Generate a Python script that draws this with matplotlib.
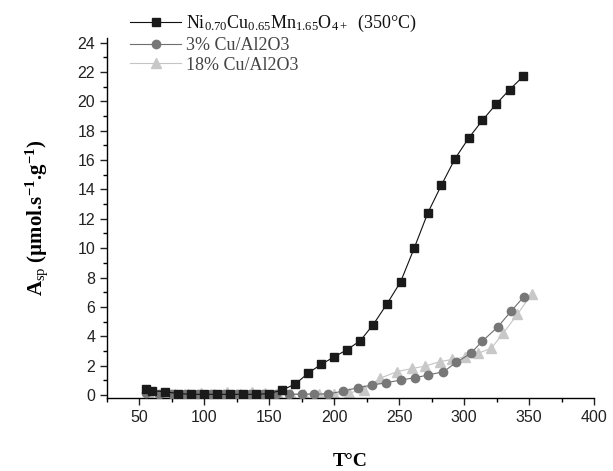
import matplotlib
matplotlib.use("Agg")
import matplotlib.pyplot as plt
from matplotlib.ticker import MultipleLocator

plt.rcParams['mathtext.fontset'] = 'custom'
plt.rcParams['mathtext.rm'] = 'Liberation Serif'
plt.rcParams['mathtext.it'] = 'Liberation Serif:italic'
plt.rcParams['mathtext.bf'] = 'Liberation Serif:bold'

# Ni0.70Cu0.65Mn1.65O4+ (350°C)
t_ni = [55, 60, 70, 80, 90, 100, 110, 120, 130, 140, 150, 160, 170, 180, 190, 200,
        210, 220, 230, 240.5, 251, 261.5, 272, 282.5, 293, 303.5, 314, 324.5, 335, 345.5]
a_ni = [0.4, 0.3, 0.22, 0.1, 0.05, 0.05, 0.05, 0.05, 0.05, 0.05, 0.1, 0.35, 0.75, 1.5,
        2.1, 2.6, 3.1, 3.7, 4.8, 6.2, 7.7, 10.0, 12.4, 14.3, 16.1, 17.5, 18.7, 19.8, 20.8, 21.7]

# 3% Cu/Al2O3
t_3 = [55, 65, 75, 85, 95, 105, 115, 125, 135, 145, 155, 165, 175, 184, 195, 207, 218,
       229, 240, 251, 262, 272, 284, 294, 305, 314, 326, 336, 346]
a_3 = [0.15, 0.1, 0.08, 0.05, 0.05, 0.05, 0.05, 0.05, 0.05, 0.08, 0.05, 0.07, 0.05, 0.07,
       0.07, 0.27, 0.5, 0.68, 0.84, 1.02, 1.18, 1.36, 1.59, 2.22, 2.84, 3.67, 4.65, 5.7, 6.7]

# 18% Cu/Al2O3
t_18 = [57, 67, 77, 87, 97, 107, 117, 127, 137, 147, 157, 167, 177, 188, 200, 211, 222.5,
        235, 248, 260, 270, 281, 291, 301, 311, 321, 330, 341, 352]
a_18 = [0.1, 0.05, 0.08, 0.1, 0.15, 0.1, 0.2, 0.1, 0.2, 0.15, 0.1, 0.05, 0.08, 0.1, 0.05,
        0.15, 0.34, 1.13, 1.59, 1.81, 1.97, 2.27, 2.43, 2.6, 2.85, 3.2, 4.2, 5.5, 6.9]

labels = [r"Ni$_{0.70}$Cu$_{0.65}$Mn$_{1.65}$O$_{4+}$  (350°C)", "3% Cu/Al2O3", "18% Cu/Al2O3"]

fig = plt.figure(figsize=(6.13, 4.71), dpi=100)
ax = fig.add_axes([0.1746, 0.155, 0.7945, 0.764])

ax.plot(t_ni, a_ni, color='#111111', lw=0.8, marker='s', ms=5.5, mfc='#1a1a1a', mec='#1a1a1a',
        label=labels[0], zorder=4)
ax.plot(t_3, a_3, color='#6e6e6e', lw=0.8, marker='o', ms=6, mfc='#777777', mec='#777777',
        label=labels[1], zorder=3)
ax.plot(t_18, a_18, color='#c4c4c4', lw=0.8, marker='^', ms=6.5, mfc='#c8c8c8', mec='#c8c8c8',
        label=labels[2], zorder=2)

ax.set_xlim(25, 400)
ax.set_ylim(-0.2, 24.3)
ax.xaxis.set_major_locator(MultipleLocator(50))
ax.xaxis.set_minor_locator(MultipleLocator(25))
ax.yaxis.set_major_locator(MultipleLocator(2))
ax.yaxis.set_minor_locator(MultipleLocator(1))
for s in ['top', 'right']:
    ax.spines[s].set_visible(False)
for s in ['left', 'bottom']:
    ax.spines[s].set_linewidth(1.0)
ax.tick_params(which='major', direction='out', length=5, width=1.0, labelsize=11.5, colors='#222222')
ax.tick_params(which='minor', direction='out', length=3, width=1.0)
for lab in ax.get_xticklabels() + ax.get_yticklabels():
    lab.set_family('Liberation Sans')

ax.set_xlabel("T°C", family='Liberation Serif', fontweight='bold', fontsize=14, labelpad=20)
ax.set_ylabel(r"A$_{\rm sp}$ (µmol.s$^{\mathbf{-1}}$.g$^{\mathbf{-1}}$)", family='Liberation Serif',
              fontweight='bold', fontsize=15, labelpad=20)

leg = ax.legend(loc='upper left', bbox_to_anchor=(0.033, 1.09), frameon=False,
                prop={'family': 'Liberation Serif', 'size': 13}, handlelength=2.8,
                handletextpad=0.3, labelspacing=0.15, borderaxespad=0)
cols = ['#111111', '#444444', '#444444']
for txt, c in zip(leg.get_texts(), cols):
    txt.set_color(c)

fig.savefig("out.png", dpi=100)
